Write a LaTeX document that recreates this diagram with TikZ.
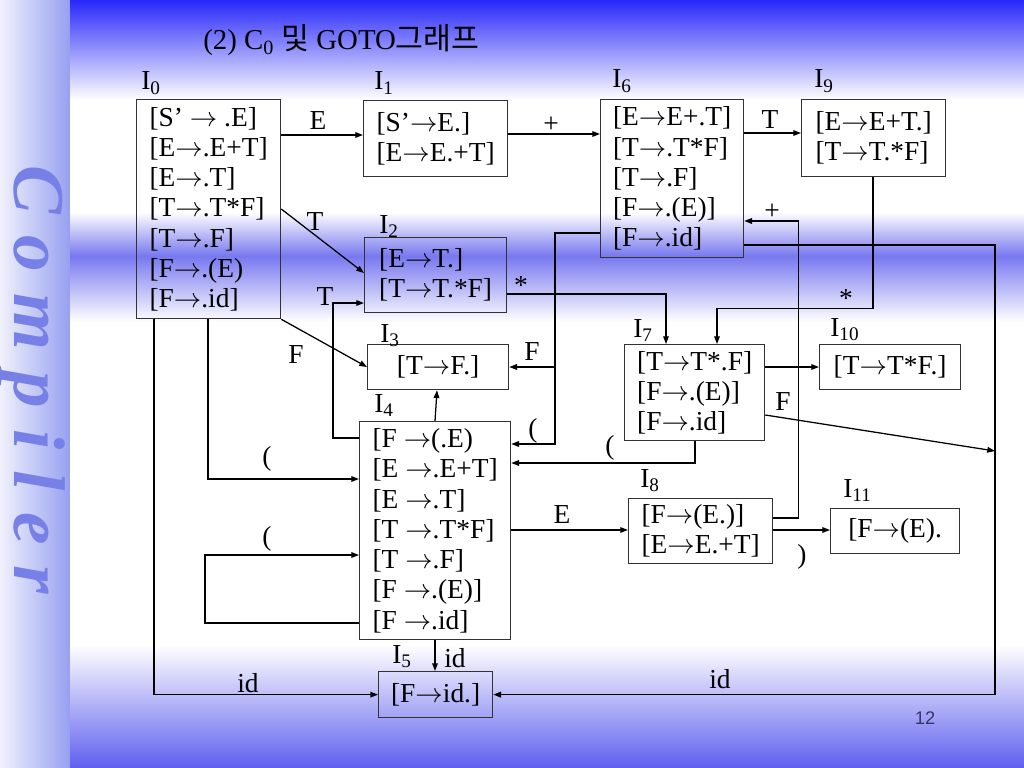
\RequirePackage{fix-cm}
\documentclass[tikz,border=0pt]{standalone}
\usepackage{fontspec}
\setmainfont{Liberation Serif}
\newfontfamily\krfont[Scale=1.05]{Noto Sans CJK KR}
\newfontfamily\pagefont{Liberation Sans}
\newfontfamily\stripfont[LetterSpace=29]{Liberation Serif}
\usetikzlibrary{arrows.meta}

\newlength{\px}
\setlength{\px}{0.025cm}
\newcommand{\goes}{$\rightarrow$}
\definecolor{topblue}{RGB}{40,40,250}
\definecolor{bandblue}{RGB}{120,120,240}
\definecolor{lowblue}{RGB}{95,95,240}
\definecolor{stripleft}{RGB}{240,241,252}
\definecolor{stripright}{RGB}{150,160,240}
\definecolor{letterblue}{RGB}{118,128,230}
\definecolor{pagegray}{RGB}{55,55,95}
\definecolor{boxgray}{RGB}{50,50,50}

\begin{document}
\begin{tikzpicture}[x=0.025cm, y=-0.025cm,
    state/.style={draw=boxgray, line width=0.9pt, anchor=north west, align=left,
        inner sep=0pt, font=\fontsize{19.5}{21.5}\selectfont},
    lbl/.style={inner sep=0pt, font=\fontsize{19.5}{21.5}\selectfont},
    setname/.style={inner sep=0pt, anchor=base west, font=\fontsize{19.5}{21.5}\selectfont},
    arr/.style={line width=0.9pt, -{Triangle[length=5.5pt,width=4pt]}}]
        \useasboundingbox (0,0) rectangle (1024,768);
        % background
        \shade[left color=stripleft, right color=stripright] (0,0) rectangle (70,768);
        \shade[top color=topblue, bottom color=white] (70,0) rectangle (1024,100);
        \fill[white] (70,100) rectangle (1024,212);
        \shade[top color=white, bottom color=bandblue] (70,212) rectangle (1024,256);
        \shade[top color=bandblue, bottom color=white] (70,256) rectangle (1024,322);
        \fill[white] (70,322) rectangle (1024,645);
        \shade[top color=white, bottom color=lowblue] (70,645) rectangle (1024,768);
        \node[rotate=-90, text=letterblue, font=\stripfont\fontsize{52}{56}\selectfont\bfseries\itshape] (strip) at (32,380) {Compiler};

        \node[setname, font=\fontsize{20.5}{22}\selectfont] (title) at (203,50) {(2) C\textsubscript{0} {\krfont 및} GOTO{\krfont 그래프}};
        \node[font=\pagefont\fontsize{13}{13}\selectfont, text=pagegray] (pagenum) at (925,718) {12};

        % item sets
        \node[state, minimum width=144\px, minimum height=219\px] (I0) at (136,99)
            {[S’ \goes{} .E]\\{}[E\goes.E+T]\\{}[E\goes.T]\\{}[T\goes.T*F]\\{}[T\goes.F]\\{}[F\goes.(E)\\{}[F\goes.id]};
        \node[state, minimum width=144\px, minimum height=76\px] (I1) at (363,100)
            {[S’\goes E.]\\{}[E\goes E.+T]};
        \node[state, minimum width=143\px, minimum height=158\px] (I6) at (600,99)
            {[E\goes E+.T]\\{}[T\goes.T*F]\\{}[T\goes.F]\\{}[F\goes.(E)]\\{}[F\goes.id]};
        \node[state, minimum width=144\px, minimum height=77\px] (I9) at (801,99)
            {[E\goes E+T.]\\{}[T\goes T.*F]};
        \node[state, minimum width=142\px, minimum height=75\px] (I2) at (364,237)
            {[E\goes T.]\\{}[T\goes T.*F]};
        \node[state, minimum width=141\px, minimum height=45\px] (I3) at (367,344) {[T\goes F.]};
        \node[state, minimum width=151\px, minimum height=218\px] (I4) at (359,421)
            {[F \goes(.E)\\{}[E \goes.E+T]\\{}[E \goes.T]\\{}[T \goes.T*F]\\{}[T \goes.F]\\{}[F \goes.(E)]\\{}[F \goes.id]};
        \node[state, minimum width=140\px, minimum height=96\px] (I7) at (624,344)
            {[T\goes T*.F]\\{}[F\goes.(E)]\\{}[F\goes.id]};
        \node[state, minimum width=141\px, minimum height=45\px] (I10) at (819,344) {[T\goes T*F.]};
        \node[state, minimum width=144\px, minimum height=65\px] (I8) at (628,498)
            {[F\goes(E.)]\\{}[E\goes E.+T]};
        \node[state, minimum width=129\px, minimum height=45\px] (I11) at (830,508) {[F\goes(E).};
        \node[state, minimum width=114\px, minimum height=46\px] (I5) at (378,671) {[F\goes id.]};

        % set names
        \node[setname] (n0) at (141,90) {I\textsubscript{0}};
        \node[setname] (n1) at (374,90) {I\textsubscript{1}};
        \node[setname] (n6) at (612,88) {I\textsubscript{6}};
        \node[setname] (n9) at (814,88) {I\textsubscript{9}};
        \node[setname] (n2) at (379,233) {I\textsubscript{2}};
        \node[setname] (n3) at (380,342) {I\textsubscript{3}};
        \node[setname] (n4) at (374,412) {I\textsubscript{4}};
        \node[setname] (n5) at (392,663) {I\textsubscript{5}};
        \node[setname] (n7) at (633,337) {I\textsubscript{7}};
        \node[setname] (n10) at (830,336) {I\textsubscript{10}};
        \node[setname] (n8) at (640,487) {I\textsubscript{8}};
        \node[setname] (n11) at (843,497) {I\textsubscript{11}};

        % goto edges
        \draw[arr] (I0.east |- 0,135) -- (I1.west |- 0,135);
        \draw[arr] (I0.east |- 0,209) -- (I2.west |- 0,273);
        \draw[arr] (I0.south east) -- (I3.west |- 0,367);
        \draw[arr] (I0.south -| 208,0) |- (I4.west |- 0,479);
        \draw[arr] (I0.south -| 154,0) |- (I5.west);
        \draw[arr] (I1.east |- 0,134) -- (I6.west |- 0,134);
        \draw[arr] (I6.east |- 0,133) -- (I9.west |- 0,133);
        \draw[arr] (I2.east |- 0,294) -| (I7.north -| 666,0);
        \draw[arr] (I9.south -| 873,0) -- ++(0,131) -| (I7.north -| 717,0);
        \coordinate (fork6) at (555,367);
        \draw[arr] (I6.west |- 0,233) -| (fork6) |- (I4.east |- 0,444);
        \draw[arr] (fork6) -- (I3.east |- 0,367);
        \draw[arr] (I4.north -| 435,0) -- (I3.south -| 437,0);
        \draw[arr] (I4.west |- 0,438) -- ++(-26,0) |- (I2.west |- 0,303);
        \draw[arr] (I4.west |- 0,623) -- ++(-154,0) |- (I4.west |- 0,555);
        \draw[arr] (I4.south -| 435,0) -- (I5.north -| 435,0);
        \draw[arr] (I4.east |- 0,530) -- (I8.west |- 0,530);
        \draw[arr] (I7.south -| 695,0) |- (I4.east |- 0,463);
        \draw[arr] (I7.east |- 0,367) -- (I10.west |- 0,367);
        \coordinate (rail) at (995,451);
        \draw[arr] (I7.east |- 0,415) -- (rail);
        \draw[arr] (I6.east |- 0,245) -| (I5.east -| 995,0) -- (I5.east);
        \draw[arr] (I8.east |- 0,518) -- ++(25,0) |- (I6.east |- 0,221);
        \draw[arr] (I8.east |- 0,530) -- (I11.west |- 0,530);

        % edge labels
        \node[lbl] (e01) at (318,121) {E};
        \node[lbl] (e02) at (315,222) {T};
        \node[lbl] (e03) at (296,355) {F};
        \node[lbl] (e04) at (267,459) {(};
        \node[lbl] (e05) at (248,683) {id};
        \node[lbl] (e16) at (551,125) {+};
        \node[lbl] (e69) at (770,120) {T};
        \node[lbl] (e27) at (521,286) {*};
        \node[lbl] (e97) at (846,299) {*};
        \node[lbl] (e63) at (532,352) {F};
        \node[lbl] (e64) at (533,431) {(};
        \node[lbl] (e42) at (325,297) {T};
        \node[lbl] (e44) at (267,539) {(};
        \node[lbl] (e45) at (455,658) {id};
        \node[lbl] (e48) at (562,515) {E};
        \node[lbl] (e74) at (610,448) {(};
        \node[lbl] (e710) at (783,402) {F};
        \node[lbl] (e65) at (720,679) {id};
        \node[lbl] (e86) at (772,212) {+};
        \node[lbl] (e811) at (802,557) {)};
\end{tikzpicture}
\end{document}
